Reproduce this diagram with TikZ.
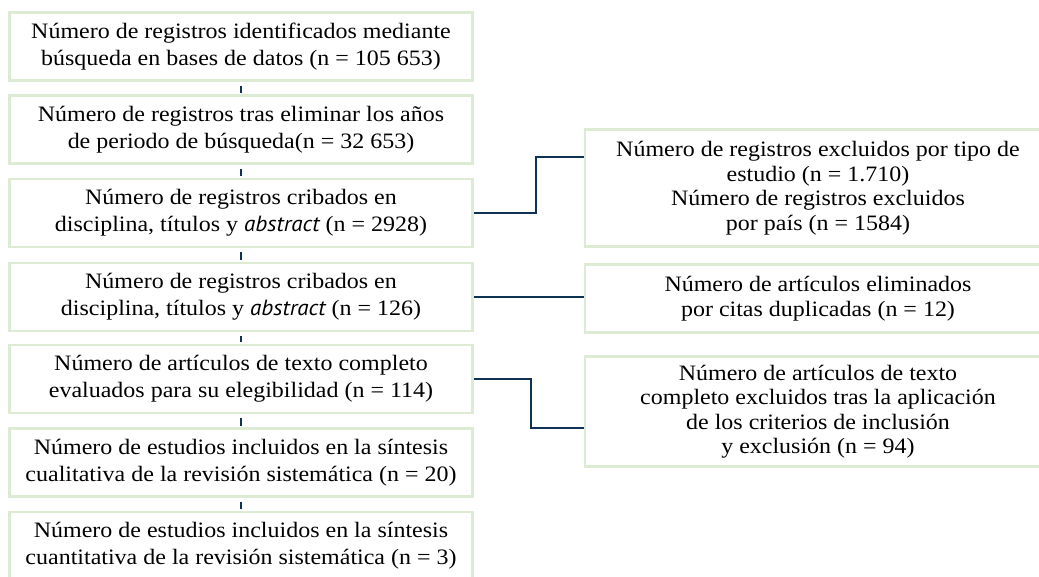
\documentclass[tikz,border=0pt]{standalone}
\usepackage{fontspec}
\setmainfont[FakeStretch=1.09]{Liberation Serif}
\newfontfamily\abstractfont[FakeStretch=1.05]{PT Sans}
\usetikzlibrary{positioning}
\definecolor{boxborder}{RGB}{221,235,212}
\definecolor{linkcolor}{RGB}{14,50,86}
\newcommand{\abst}{{\abstractfont\itshape abstract}}

\begin{document}
\begin{tikzpicture}[x=1pt, y=-1pt]
        \tikzstyle{stage} = [rectangle, draw=boxborder, line width=2.6pt, fill=white, minimum width=463pt, minimum height=68pt, align=center, font=\fontsize{22}{27}\selectfont, inner sep=0pt];
        \tikzstyle{excluded} = [rectangle, draw=boxborder, line width=2.6pt, fill=white, minimum width=466pt, align=center, font=\fontsize{22}{24.5}\selectfont, inner sep=0pt];
        \tikzstyle{link} = [draw=linkcolor, line width=2.4pt];

        \useasboundingbox (0,0) rectangle (1039,577);
        \clip (0,0) rectangle (1039,577);
        \fill[white] (0,0) rectangle (1039,577);

        % main column
        \node(records) [stage] at (241, 46.5) {Número de registros identificados mediante\\búsqueda en bases de datos (n = 105 653)};
        \node(years) [stage] at (241, 129.5) {Número de registros tras eliminar los años\\de periodo de búsqueda(n = 32 653)};
        \node(screened) [stage] at (241, 213) {Número de registros cribados en\\disciplina, títulos y \abst{} (n = 2928)};
        \node(screenedb) [stage] at (241, 297) {Número de registros cribados en\\disciplina, títulos y \abst{} (n = 126)};
        \node(fulltext) [stage] at (241, 379) {Número de artículos de texto completo\\evaluados para su elegibilidad (n = 114)};
        \node(qualitative) [stage] at (241, 462.5) {Número de estudios incluidos en la síntesis\\cualitativa de la revisión sistemática (n = 20)};
        \node(quantitative) [stage] at (241, 546) {Número de estudios incluidos en la síntesis\\cuantitativa de la revisión sistemática (n = 3)};

        % excluded column, running off the right edge
        \node(bytype) [excluded, minimum height=117pt] at (818, 188) {Número de registros excluidos por tipo de\\estudio (n = 1.710)\\Número de registros excluidos\\por país (n = 1584)};
        \node(duplicates) [excluded, minimum height=68pt] at (818, 298.5) {Número de artículos eliminados\\por citas duplicadas (n = 12)};
        \node(criteria) [excluded, minimum height=110pt] at (818, 411.5) {Número de artículos de texto\\completo excluidos tras la aplicación\\de los criterios de inclusión\\y exclusión (n = 94)};

        % short ticks between the stages
        \foreach \a/\b in {records/years, years/screened, screened/screenedb, screenedb/fulltext, fulltext/qualitative, qualitative/quantitative}
            \draw[link, line width=2pt, shorten <=4pt, shorten >=1.5pt] (\a.south) -- (\b.north);

        \coordinate(typein) at (bytype.west |- 0,157);
        \coordinate(criteriain) at (criteria.west |- 0,428);
        \draw[link] (screened.east) -| (536, 157) -- (typein);
        \draw[link] (screenedb.east) -- (screenedb.east -| duplicates.west);
        \draw[link] (fulltext.east) -| (531, 428) -- (criteriain);

\end{tikzpicture}
\end{document}
